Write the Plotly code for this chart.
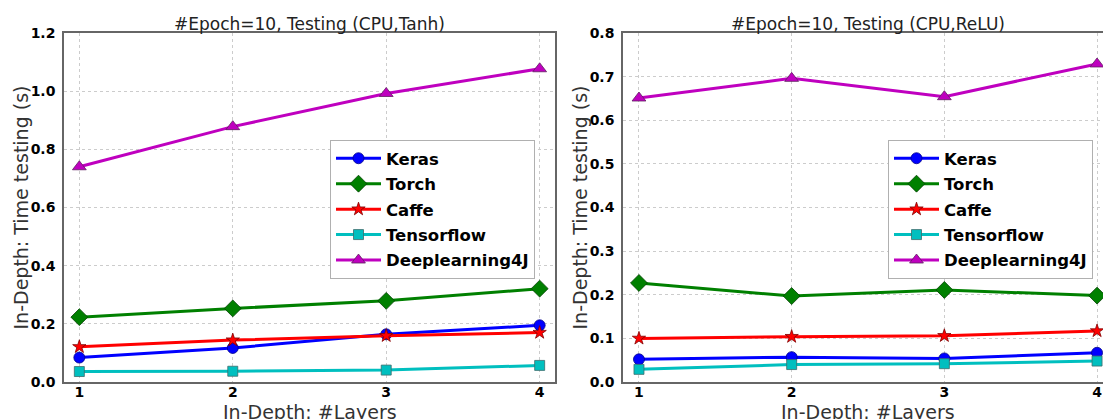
import plotly.graph_objects as go

W, H = 1103, 419

layers = [1, 2, 3, 4]
frameworks = ["Keras", "Torch", "Caffe", "Tensorflow", "Deeplearning4J"]

# Tanh (left)
tanh_keras = [0.084, 0.117, 0.164, 0.195]
tanh_torch = [0.223, 0.253, 0.279, 0.321]
tanh_caffe = [0.121, 0.144, 0.159, 0.170]
tanh_tensorflow = [0.036, 0.037, 0.041, 0.057]
tanh_dl4j = [0.740, 0.878, 0.992, 1.077]

# ReLU (right)
relu_keras = [0.052, 0.057, 0.054, 0.067]
relu_torch = [0.227, 0.197, 0.211, 0.198]
relu_caffe = [0.100, 0.104, 0.106, 0.117]
relu_tensorflow = [0.029, 0.040, 0.042, 0.048]
relu_dl4j = [0.651, 0.696, 0.654, 0.729]

titles = ["#Epoch=10, Testing (CPU,Tanh)", "#Epoch=10, Testing (CPU,ReLU)"]
x_title = "In-Depth: #Layers"
y_title = "In-Depth: Time testing (s)"

colors = ["#0000ff", "#008000", "#ff0000", "#00bfbf", "#bf00bf"]
symbols = ["circle", "diamond", "star", "square", "triangle-up"]
msizes = [11, 13, 10, 10, 12]
edge = ["#00008a", "#004000", "#800000", "#3c6c6c", "#602060"]

FONT = "DejaVu Sans"

fig = go.Figure()

def px_x(p):
    return p / W

def px_y(p):
    return (H - p) / H

left_series = [tanh_keras, tanh_torch, tanh_caffe, tanh_tensorflow, tanh_dl4j]
right_series = [relu_keras, relu_torch, relu_caffe, relu_tensorflow, relu_dl4j]

for side, series, xa, ya, leg in [
    ("l", left_series, "x", "y", "legend"),
    ("r", right_series, "x2", "y2", "legend2"),
]:
    for i, (name, vals) in enumerate(zip(frameworks, series)):
        fig.add_trace(go.Scatter(
            x=layers, y=vals, name=name, mode="lines+markers",
            xaxis=xa, yaxis=ya, legend=leg, legendgroup=side + name,
            line=dict(color=colors[i], width=3),
            marker=dict(symbol=symbols[i], size=msizes[i], color=colors[i],
                        line=dict(color=edge[i], width=0.8)),
            cliponaxis=False,
        ))

tickfont = dict(family=FONT, size=14, color="black", weight="bold")
axis_common = dict(
    showline=True, linecolor="#666666", linewidth=1.5,
    showgrid=True, gridcolor="#cccccc", gridwidth=1, griddash="dot",
    zeroline=False, ticks="", tickfont=tickfont,
)

ydom = [px_y(382), px_y(33)]

fig.update_layout(
    width=W, height=H,
    margin=dict(l=0, r=0, t=0, b=0, autoexpand=False),
    paper_bgcolor="white", plot_bgcolor="white",
    showlegend=True,
    xaxis=dict(domain=[px_x(64), px_x(555)], range=[0.9, 4.1],
               tickvals=layers, mirror=True, anchor="y",
               ticklabelstandoff=-4, **axis_common),
    yaxis=dict(domain=ydom, range=[0, 1.2], dtick=0.2, tick0=0,
               tickformat=".1f", mirror=True, anchor="x",
               ticklabelstandoff=4, **axis_common),
    xaxis2=dict(domain=[px_x(623), 1.0], range=[0.8954, 4.039],
                tickvals=layers, mirror=True, anchor="y2",
                ticklabelstandoff=-4, **axis_common),
    yaxis2=dict(domain=ydom, range=[0, 0.8], dtick=0.1, tick0=0,
                tickformat=".1f", mirror=False, anchor="x2",
                ticklabelstandoff=4, **axis_common),
    legend=dict(x=px_x(330), y=px_y(140), xanchor="left", yanchor="top",
                bgcolor="white", bordercolor="#b0b0b0", borderwidth=1,
                font=dict(family=FONT, size=16.5, color="black", weight="bold"),
                itemwidth=45, tracegroupgap=1),
    legend2=dict(x=px_x(888), y=px_y(140), xanchor="left", yanchor="top",
                 bgcolor="white", bordercolor="#b0b0b0", borderwidth=1,
                 font=dict(family=FONT, size=16.5, color="black", weight="bold"),
                 itemwidth=45, tracegroupgap=1),
)

annos = []
for cx, t in [((64 + 555) / 2, titles[0]), ((623 + 1112) / 2, titles[1])]:
    annos.append(dict(text=t, x=px_x(cx), y=px_y(24), xref="paper", yref="paper",
                      xanchor="center", yanchor="middle", showarrow=False,
                      font=dict(family=FONT, size=17, color="#222222")))
    annos.append(dict(text=x_title, x=px_x(cx), y=px_y(412), xref="paper", yref="paper",
                      xanchor="center", yanchor="middle", showarrow=False,
                      font=dict(family=FONT, size=19, color="#333333")))
for cx in [20, 20 + 559]:
    annos.append(dict(text=y_title, x=px_x(cx), y=px_y(207.5), xref="paper", yref="paper",
                      xanchor="center", yanchor="middle", showarrow=False, textangle=-90,
                      font=dict(family=FONT, size=19, color="#333333")))
fig.update_layout(annotations=annos)

fig.write_html("out.html")
